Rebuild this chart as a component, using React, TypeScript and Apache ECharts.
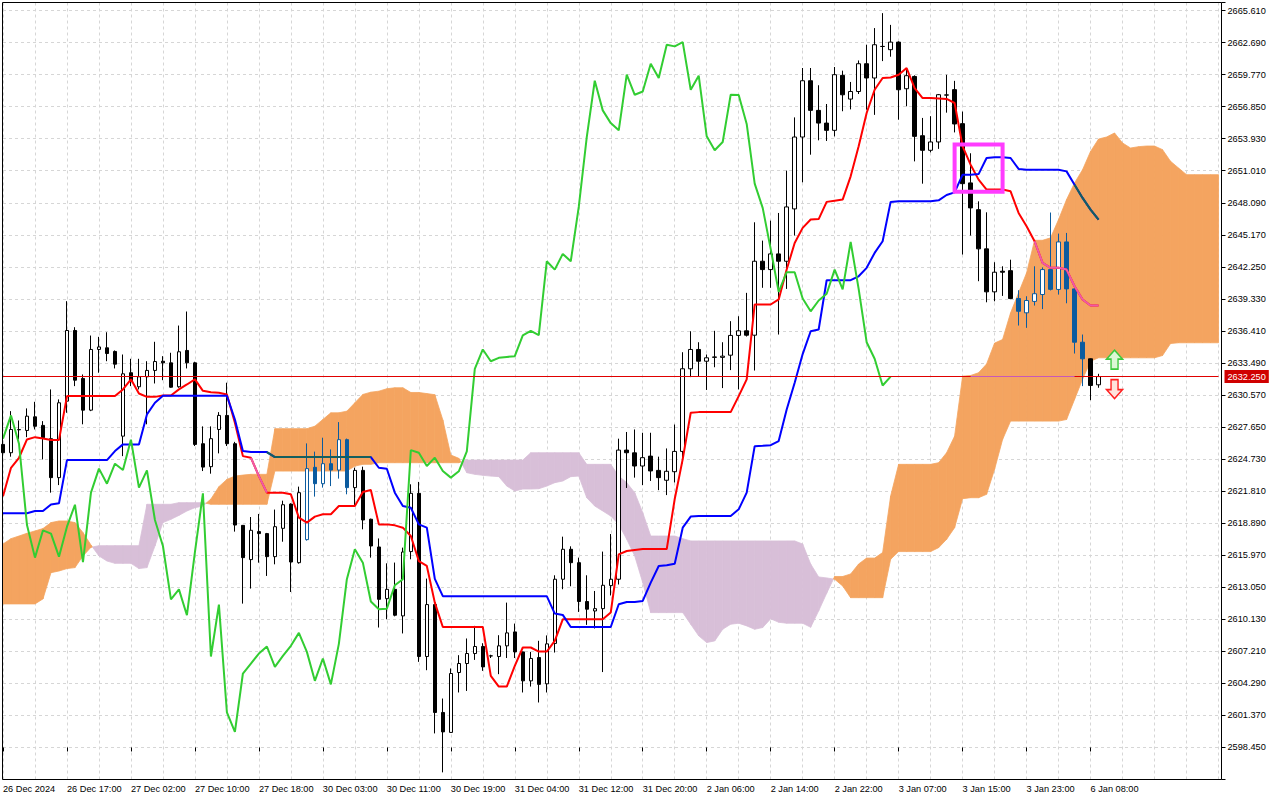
import React, { useEffect, useRef } from "react";
import * as echarts from "echarts";

// ---------- axis constants ----------
const BASE_PRICE = 2598.45; // lowest labelled price
const LAST_LABEL_PRICE = 2665.61; // highest labelled price
const PRICE_STEP = 2.92;
const TOP_PRICE = 2666.34;
const SLOT_COUNT = 153;
const LABEL_EVERY = 8;
const GRID_EVERY = 4;
const CHIKOU_SHIFT = 26;

const timeLabels = [
  "26 Dec 2024", "26 Dec 17:00", "27 Dec 02:00", "27 Dec 10:00", "27 Dec 18:00", "30 Dec 03:00",
  "30 Dec 11:00", "30 Dec 19:00", "31 Dec 04:00", "31 Dec 12:00", "31 Dec 20:00", "2 Jan 06:00",
  "2 Jan 14:00", "2 Jan 22:00", "3 Jan 07:00", "3 Jan 15:00", "3 Jan 23:00", "6 Jan 08:00",
];

// ---------- candles (H1) ----------
const opens = [
  2626.07, 2625.31, 2627.40, 2627.34, 2628.58, 2627.80, 2626.59, 2623.04, 2630.01, 2636.45,
  2632.08, 2629.19, 2634.72, 2634.87, 2634.54, 2626.82, 2632.60, 2631.32, 2632.23, 2632.81,
  2633.65, 2633.50, 2631.32, 2634.63, 2633.50, 2626.13, 2624.04, 2627.43, 2628.71, 2626.13,
  2618.69, 2615.57, 2618.12, 2617.94, 2615.84, 2618.42, 2620.63, 2615.29, 2617.39, 2623.98,
  2622.49, 2624.31, 2623.73, 2626.50, 2622.13, 2623.70, 2619.25, 2616.72, 2612.01, 2612.86,
  2610.44, 2616.30, 2621.61, 2606.74, 2611.47, 2601.64, 2599.82, 2605.28, 2606.10, 2607.01,
  2607.65, 2606.79, 2606.74, 2607.71, 2608.98, 2607.16, 2604.52, 2606.65, 2604.25, 2607.93,
  2613.78, 2616.51, 2615.29, 2611.75, 2610.89, 2611.10, 2613.20, 2613.78, 2625.55, 2625.30,
  2624.10, 2625.00, 2623.70, 2622.80, 2623.58, 2625.43, 2632.96, 2634.72, 2633.65, 2634.00,
  2634.00, 2634.20, 2636.00, 2636.42, 2636.02, 2642.76, 2642.00, 2643.43, 2642.76, 2647.53,
  2654.08, 2659.21, 2656.51, 2655.35, 2654.69, 2659.70, 2657.54, 2658.23, 2660.76, 2659.46,
  2662.33, 2662.04, 2662.73, 2658.48, 2659.60, 2654.20, 2652.87, 2653.63, 2657.90, 2658.40,
  2655.30, 2649.90, 2647.46, 2643.89, 2639.97, 2641.85, 2641.90, 2639.36, 2638.06, 2639.10,
  2639.73, 2642.00, 2640.19, 2644.52, 2640.24, 2635.38, 2633.87, 2631.50,
];
const closes = [
  2625.31, 2627.43, 2627.42, 2628.64, 2627.72, 2626.68, 2623.04, 2629.86, 2636.45, 2631.92,
  2629.19, 2634.72, 2634.95, 2634.35, 2633.38, 2632.50, 2631.83, 2632.23, 2632.81, 2633.62,
  2633.50, 2631.28, 2634.51, 2633.50, 2626.07, 2624.00, 2626.59, 2628.71, 2626.13, 2618.72,
  2615.75, 2618.24, 2617.94, 2615.84, 2618.57, 2620.57, 2615.35, 2621.67, 2623.86, 2622.49,
  2624.31, 2623.73, 2626.50, 2622.13, 2623.70, 2619.18, 2616.81, 2611.95, 2612.86, 2610.50,
  2616.26, 2621.61, 2606.74, 2611.47, 2601.64, 2599.87, 2605.19, 2606.10, 2607.01, 2607.65,
  2605.79, 2606.80, 2607.71, 2608.89, 2607.16, 2604.52, 2606.56, 2604.20, 2607.89, 2613.78,
  2616.51, 2615.29, 2611.75, 2611.05, 2611.10, 2613.23, 2613.78, 2625.55, 2625.31, 2624.10,
  2624.86, 2623.65, 2623.04, 2623.62, 2625.43, 2632.96, 2634.72, 2633.65, 2633.96, 2634.04,
  2634.11, 2636.00, 2636.42, 2636.02, 2642.76, 2642.00, 2643.43, 2642.76, 2647.71, 2654.08,
  2659.21, 2656.51, 2655.35, 2654.69, 2659.76, 2657.93, 2658.23, 2660.76, 2659.46, 2662.49,
  2662.34, 2662.73, 2658.39, 2659.67, 2654.14, 2652.87, 2653.63, 2657.94, 2657.92, 2655.27,
  2649.83, 2647.62, 2643.89, 2639.97, 2641.76, 2641.76, 2639.36, 2638.20, 2639.18, 2639.80,
  2642.00, 2640.20, 2644.52, 2640.24, 2635.38, 2633.87, 2631.44, 2632.25,
];
const lows = [
  2625.00, 2624.95, 2626.52, 2626.73, 2627.43, 2624.70, 2621.67, 2622.36, 2628.95, 2631.38,
  2627.90, 2629.10, 2632.60, 2633.65, 2632.99, 2625.00, 2631.38, 2631.08, 2627.90, 2631.62,
  2631.92, 2631.23, 2631.23, 2632.99, 2625.92, 2623.64, 2623.40, 2625.25, 2625.92, 2618.12,
  2611.56, 2612.93, 2615.29, 2614.08, 2615.14, 2617.20, 2612.62, 2615.20, 2617.30, 2621.31,
  2622.13, 2622.27, 2622.95, 2621.52, 2620.46, 2618.33, 2615.75, 2609.38, 2610.13, 2610.40,
  2608.84, 2615.60, 2606.25, 2605.49, 2599.73, 2596.18, 2599.80, 2603.46, 2603.60, 2606.43,
  2605.43, 2606.60, 2605.13, 2606.60, 2606.60, 2603.46, 2604.00, 2602.55, 2603.46, 2607.10,
  2612.87, 2613.14, 2610.80, 2609.62, 2609.29, 2605.32, 2612.30, 2613.30, 2622.10, 2623.04,
  2622.36, 2622.74, 2621.90, 2621.45, 2622.60, 2624.34, 2632.20, 2632.29, 2631.03, 2633.10,
  2631.20, 2632.84, 2631.08, 2635.90, 2632.80, 2640.34, 2640.34, 2636.08, 2640.24, 2645.10,
  2649.95, 2652.47, 2653.78, 2653.72, 2654.14, 2656.43, 2656.60, 2658.00, 2656.57, 2656.10,
  2661.00, 2661.40, 2655.66, 2656.88, 2651.86, 2649.83, 2652.68, 2653.00, 2656.30, 2654.50,
  2643.37, 2645.10, 2640.94, 2639.02, 2639.11, 2639.60, 2639.30, 2636.90, 2636.69, 2638.72,
  2638.40, 2640.10, 2639.72, 2638.93, 2634.35, 2631.38, 2630.10, 2631.23,
];
const highs = [
  2626.50, 2629.10, 2628.25, 2629.35, 2629.95, 2628.19, 2631.08, 2630.17, 2639.12, 2636.75,
  2632.44, 2635.99, 2635.87, 2636.29, 2634.63, 2634.26, 2633.87, 2633.87, 2633.65, 2635.42,
  2634.11, 2634.42, 2636.90, 2638.18, 2633.60, 2627.71, 2627.71, 2629.01, 2631.69, 2626.30,
  2618.70, 2619.45, 2619.73, 2618.00, 2620.13, 2620.94, 2620.70, 2622.22, 2626.16, 2625.41,
  2626.68, 2625.61, 2628.10, 2626.60, 2623.95, 2624.04, 2619.30, 2617.50, 2615.23, 2615.30,
  2616.66, 2622.43, 2622.65, 2613.84, 2611.50, 2602.91, 2605.65, 2606.86, 2608.38, 2609.53,
  2607.95, 2606.90, 2608.68, 2611.65, 2609.74, 2607.20, 2607.16, 2608.17, 2608.66, 2614.14,
  2617.66, 2616.78, 2615.75, 2614.14, 2612.71, 2616.30, 2617.90, 2626.59, 2627.20, 2627.43,
  2627.13, 2627.13, 2624.95, 2625.70, 2627.88, 2634.47, 2636.38, 2635.38, 2634.26, 2636.42,
  2635.38, 2637.30, 2637.75, 2639.88, 2646.31, 2644.64, 2646.46, 2647.16, 2651.02, 2655.87,
  2660.37, 2660.37, 2658.80, 2657.09, 2660.46, 2660.13, 2659.10, 2661.06, 2662.49, 2664.01,
  2665.37, 2664.30, 2662.80, 2660.37, 2659.70, 2655.82, 2655.98, 2658.00, 2659.75, 2659.20,
  2656.40, 2652.60, 2648.22, 2647.22, 2642.67, 2642.30, 2642.90, 2640.12, 2639.57, 2642.30,
  2642.20, 2647.20, 2645.28, 2645.34, 2640.30, 2636.08, 2633.90, 2632.50,
];

// ---------- Ichimoku lines ----------
const tenkan = [
  2621.35, 2623.94, 2624.85, 2626.52, 2626.73, 2626.60, 2626.46, 2626.46, 2630.47, 2630.47,
  2630.47, 2630.47, 2630.47, 2630.47, 2630.47, 2631.08, 2632.00, 2630.71, 2630.40, 2630.40,
  2630.53, 2630.53, 2631.08, 2631.53, 2632.00, 2630.95, 2630.83, 2630.77, 2630.62, 2628.04,
  2625.00, 2624.86, 2623.18, 2621.67, 2621.67, 2621.67, 2621.52, 2619.40, 2618.94, 2619.49,
  2619.70, 2619.70, 2620.45, 2620.45, 2620.45, 2621.73, 2621.91, 2618.78, 2618.78, 2618.69,
  2618.48, 2617.72, 2615.44, 2614.99, 2611.65, 2609.43, 2609.43, 2609.43, 2609.43, 2609.43,
  2609.43, 2604.98, 2604.00, 2604.00, 2605.88, 2607.56, 2607.56, 2607.19, 2607.19, 2608.16,
  2610.13, 2610.13, 2610.13, 2610.13, 2610.13, 2610.13, 2610.74, 2616.05, 2616.35, 2616.44,
  2616.53, 2616.53, 2616.53, 2616.53, 2621.09, 2624.73, 2628.95, 2629.01, 2629.01, 2629.01,
  2629.01, 2629.01, 2630.47, 2632.00, 2638.82, 2638.82, 2638.82, 2639.28, 2642.00, 2644.43,
  2645.80, 2646.56, 2646.60, 2648.17, 2648.28, 2648.38, 2650.50, 2653.23, 2656.27, 2658.39,
  2659.46, 2659.50, 2659.76, 2660.37, 2658.54, 2657.63, 2657.63, 2657.60, 2657.55, 2657.18,
  2653.23, 2651.56, 2650.20, 2649.29, 2649.29, 2649.29, 2649.13, 2647.16, 2645.95, 2644.58,
  2642.61, 2642.16, 2642.16, 2642.00, 2640.48, 2639.28, 2638.72, 2638.72,
];
const kijun = [
  2619.79, 2619.79, 2619.79, 2619.80, 2620.00, 2620.00, 2620.60, 2620.70, 2624.64, 2624.64,
  2624.64, 2624.64, 2624.64, 2624.64, 2625.46, 2626.07, 2626.07, 2626.07, 2628.80, 2629.86,
  2630.50, 2630.50, 2630.50, 2630.50, 2630.50, 2630.50, 2630.50, 2630.50, 2630.50, 2628.34,
  2625.46, 2625.37, 2625.37, 2625.37, 2624.91, 2624.91, 2624.91, 2624.91, 2624.91, 2624.91,
  2624.91, 2624.91, 2624.91, 2624.91, 2624.91, 2624.91, 2624.91, 2623.94, 2623.85, 2621.67,
  2620.45, 2620.30, 2618.78, 2618.48, 2613.81, 2612.24, 2612.24, 2612.24, 2612.24, 2612.24,
  2612.24, 2612.24, 2612.24, 2612.24, 2612.24, 2612.24, 2612.24, 2612.24, 2612.24, 2610.65,
  2610.53, 2609.43, 2609.43, 2609.43, 2609.43, 2609.43, 2609.43, 2611.50, 2611.71, 2611.71,
  2611.80, 2613.47, 2614.99, 2615.05, 2615.20, 2618.48, 2619.49, 2619.54, 2619.54, 2619.54,
  2619.54, 2619.54, 2620.15, 2621.67, 2625.91, 2625.95, 2626.00, 2626.37, 2629.25, 2631.69,
  2634.30, 2636.38, 2636.54, 2641.03, 2641.03, 2641.03, 2641.03, 2641.39, 2642.16, 2643.52,
  2644.58, 2648.17, 2648.22, 2648.22, 2648.22, 2648.22, 2648.22, 2648.31, 2648.80, 2649.04,
  2650.65, 2650.65, 2650.70, 2652.17, 2652.23, 2652.23, 2652.17, 2651.17, 2651.10, 2651.10,
  2651.10, 2651.10, 2651.10, 2650.95, 2649.74, 2648.53, 2647.47, 2646.56,
];
const spanA = [
  2616.99, 2617.48, 2617.72, 2617.97, 2618.18, 2618.40, 2618.94, 2619.09, 2619.09, 2618.94,
  2618.03, 2616.90, 2615.90, 2615.44, 2615.23, 2615.23, 2615.23, 2614.75, 2614.84, 2616.81,
  2618.94, 2619.24, 2619.60, 2620.00, 2620.30, 2620.45, 2621.09, 2622.22, 2622.88, 2623.18,
  2623.27, 2623.34, 2623.34, 2623.34, 2627.50, 2627.50, 2627.50, 2627.50, 2627.50, 2627.73,
  2628.34, 2628.95, 2628.95, 2629.10, 2629.86, 2630.62, 2630.83, 2630.92, 2631.14, 2631.23,
  2631.23, 2630.80, 2630.80, 2630.70, 2630.60, 2628.30, 2625.10, 2624.80, 2623.49, 2623.34,
  2623.25, 2623.18, 2623.13, 2622.27, 2621.82, 2622.00, 2622.00, 2622.03, 2622.27, 2622.58,
  2622.73, 2623.13, 2623.18, 2621.21, 2620.45, 2620.00, 2619.54, 2618.78, 2617.42, 2615.90,
  2613.47, 2610.74, 2610.74, 2610.74, 2610.74, 2610.74, 2609.68, 2608.62, 2608.01, 2608.16,
  2609.22, 2609.68, 2609.77, 2609.53, 2609.22, 2609.38, 2610.17, 2609.86, 2609.77, 2609.77,
  2609.77, 2609.40, 2610.90, 2612.50, 2614.03, 2614.03, 2614.26, 2615.17, 2615.71, 2615.71,
  2616.21, 2621.36, 2624.25, 2624.25, 2624.25, 2624.25, 2624.25, 2624.40, 2625.31, 2626.82,
  2632.29, 2632.35, 2632.60, 2633.40, 2635.30, 2635.63, 2638.06, 2639.88, 2641.70, 2644.67,
  2644.67, 2644.89, 2646.56, 2648.38, 2649.90, 2651.10, 2652.77, 2653.90, 2654.08, 2654.45,
  2653.54, 2653.08, 2653.20, 2653.26, 2653.26, 2652.93, 2651.87, 2651.26, 2650.65, 2650.65,
  2650.65, 2650.65, 2650.65,
];
const spanB = [
  2611.53, 2611.53, 2611.53, 2611.53, 2611.53, 2611.99, 2614.38, 2614.53, 2614.75, 2614.84,
  2615.90, 2616.69, 2616.84, 2616.84, 2616.84, 2616.84, 2616.84, 2616.84, 2620.61, 2620.61,
  2620.61, 2620.61, 2620.76, 2620.76, 2620.76, 2620.76, 2620.61, 2620.61, 2620.61, 2620.61,
  2620.61, 2620.61, 2620.61, 2620.61, 2623.64, 2623.64, 2623.64, 2623.64, 2623.64, 2623.64,
  2623.64, 2623.64, 2623.64, 2623.64, 2624.09, 2624.25, 2624.25, 2624.40, 2624.40, 2624.40,
  2624.40, 2624.40, 2624.40, 2624.40, 2624.40, 2624.40, 2624.40, 2624.40, 2624.64, 2624.64,
  2624.64, 2624.64, 2624.64, 2624.64, 2624.64, 2624.64, 2625.31, 2625.31, 2625.31, 2625.31,
  2625.31, 2625.31, 2625.31, 2624.25, 2624.25, 2624.25, 2624.25, 2623.18, 2622.58, 2621.67,
  2619.85, 2617.72, 2617.72, 2617.72, 2617.72, 2617.48, 2617.27, 2617.27, 2617.27, 2617.27,
  2617.27, 2617.27, 2617.27, 2617.27, 2617.27, 2617.27, 2617.27, 2617.27, 2617.27, 2617.27,
  2616.99, 2615.17, 2613.99, 2613.90, 2613.78, 2613.17, 2612.10, 2612.10, 2612.10, 2612.10,
  2612.10, 2615.60, 2616.30, 2616.30, 2616.30, 2616.30, 2616.30, 2616.66, 2617.42, 2618.48,
  2621.12, 2621.21, 2621.21, 2621.52, 2623.80, 2626.52, 2628.19, 2628.19, 2628.19, 2628.19,
  2628.19, 2628.19, 2628.19, 2628.34, 2630.17, 2632.00, 2633.65, 2633.96, 2633.96, 2633.96,
  2633.96, 2633.96, 2633.96, 2633.96, 2633.96, 2634.17, 2635.26, 2635.33, 2635.33, 2635.33,
  2635.33, 2635.33, 2635.33,
];

// ---------- annotations ----------
const currentPrice = 2632.25;
const boxBars = [119, 125];
const boxPrices = [2649.1, 2653.4];
const arrowBar = 139;
const upArrowPrice = 2633.8;
const downArrowPrice = 2631.1;
// parts that look recoloured where they cross the cloud
const candlesInCloud = [38, 39, 40, 41, 42, 43, 127, 128, 129, 130, 131, 132, 133, 134, 135];
const tenkanInCloud = [[31, 33], [129, 137]];
const kijunInCloud = [[33, 46], [134, 137]];
const priceInCloud = [121, 134];

const C = {
  orange: "#F4A460",
  thistle: "#D8BFD8",
  red: "#FF0000",
  blue: "#0000FF",
  green: "#32CD32",
  pink: "#EE5AA8",
  teal: "#145F5F",
  cloudCandle: "#0B5B9F",
  grid: "#D6D6D6",
  box: "#FF3CFF",
  priceLine: "#E00000",
  priceBox: "#D00000",
};
const FONT = "'Liberation Sans', Arial, sans-serif";

const toY = (v: number | null | undefined) =>
  v == null ? null : Math.round((v - BASE_PRICE) * 10000) / 10000;

const inRanges = (i: number, ranges: number[][]) => ranges.some(([a, b]) => i >= a && i <= b);

export default function App() {
  const ref = useRef<HTMLDivElement>(null);

  useEffect(() => {
    document.body.style.margin = "0";
    const chart = echarts.init(ref.current as HTMLDivElement, null, { renderer: "svg" });

    const categories = Array.from({ length: SLOT_COUNT }, (_, i) => String(i));
    const isLabelSlot = (i: number) => i % LABEL_EVERY === 0 && i / LABEL_EVERY < timeLabels.length;

    const candleData = opens.map((o, i) => {
      const value = [toY(o), toY(closes[i]), toY(lows[i]), toY(highs[i])];
      if (candlesInCloud.includes(i)) {
        const fill = closes[i] < o ? C.cloudCandle : "#FFFFFF";
        return {
          value,
          itemStyle: {
            color: fill,
            color0: fill,
            borderColor: C.cloudCandle,
            borderColor0: C.cloudCandle,
            borderColorDoji: C.cloudCandle,
          },
        };
      }
      return value;
    });

    const cloudData: number[][] = [];
    for (let i = 0; i < spanA.length - 1; i++) {
      cloudData.push([
        i,
        toY(spanA[i]) as number,
        toY(spanB[i]) as number,
        toY(spanA[i + 1]) as number,
        toY(spanB[i + 1]) as number,
      ]);
    }

    const lineSeries = (name: string, data: (number | null)[], color: string, z: number) => ({
      name,
      type: "line",
      data,
      showSymbol: false,
      symbol: "none",
      silent: true,
      connectNulls: false,
      lineStyle: { color, width: 2 },
      z,
    });

    const option: any = {
      animation: false,
      tooltip: { show: false },
      textStyle: { fontFamily: FONT },
      grid: { left: 2.5, right: 61.5, top: 2.5, bottom: 20.5, containLabel: false },
      xAxis: {
        type: "category",
        data: categories,
        boundaryGap: false,
        axisLine: { show: false },
        axisTick: {
          show: true,
          interval: (i: number) => isLabelSlot(i),
          length: 4,
          lineStyle: { color: "#000" },
        },
        axisLabel: {
          interval: (i: number) => isLabelSlot(i),
          formatter: (_v: string, i: number) => (isLabelSlot(i) ? timeLabels[i / LABEL_EVERY] : ""),
          align: "left",
          margin: 5,
          fontSize: 9.2,
          color: "#000",
          fontFamily: FONT,
        },
        splitLine: {
          show: true,
          interval: (i: number) => i % GRID_EVERY === 0,
          lineStyle: { color: C.grid, type: [3, 3], width: 1 },
        },
      },
      yAxis: {
        type: "value",
        position: "right",
        offset: 3,
        min: -PRICE_STEP,
        max: toY(TOP_PRICE),
        interval: PRICE_STEP,
        axisLine: { show: false },
        axisTick: { show: true, length: 4, lineStyle: { color: "#000" } },
        axisLabel: {
          showMinLabel: true,
          showMaxLabel: true,
          margin: 6,
          fontSize: 9.2,
          color: "#000",
          fontFamily: FONT,
          formatter: (v: number) =>
            v < -0.01 || v > LAST_LABEL_PRICE - BASE_PRICE + 0.01 ? "" : (v + BASE_PRICE).toFixed(3),
        },
        splitLine: { show: true, lineStyle: { color: C.grid, type: [3, 3], width: 1 } },
      },
      graphic: [
        {
          type: "rect",
          silent: true,
          z: 100,
          shape: { x: 2.5, y: 2.5, width: 1219, height: 777 },
          style: { fill: "none", stroke: "#000", lineWidth: 1 },
        },
      ],
      series: [
        {
          name: "Cloud",
          type: "custom",
          silent: true,
          clip: true,
          z: 1,
          data: cloudData,
          encode: { x: 0, y: [1, 2, 3, 4] },
          renderItem: (_params: any, api: any) => {
            const i = api.value(0) as number;
            const a0 = api.value(1) as number;
            const b0 = api.value(2) as number;
            const a1 = api.value(3) as number;
            const b1 = api.value(4) as number;
            const pa0 = api.coord([i, a0]);
            const pb0 = api.coord([i, b0]);
            const pa1 = api.coord([i + 1, a1]);
            const pb1 = api.coord([i + 1, b1]);
            const d0 = a0 - b0;
            const d1 = a1 - b1;
            const col = (d: number) => (d >= 0 ? C.orange : C.thistle);
            const poly = (pts: number[][], c: string) => ({
              type: "polygon",
              shape: { points: pts },
              style: { fill: c, stroke: c, lineWidth: 0.8 },
            });
            let children: any[];
            if ((d0 >= 0 && d1 >= 0) || (d0 <= 0 && d1 <= 0)) {
              children = [poly([pa0, pa1, pb1, pb0], col(d0 + d1))];
            } else {
              const t = d0 / (d0 - d1);
              const px = [pa0[0] + t * (pa1[0] - pa0[0]), pa0[1] + t * (pa1[1] - pa0[1])];
              children = [poly([pa0, px, pb0], col(d0)), poly([px, pa1, pb1], col(d1))];
            }
            return { type: "group", children };
          },
        },
        {
          name: "Price",
          type: "candlestick",
          data: candleData,
          barWidth: 4,
          silent: true,
          clip: true,
          z: 3,
          itemStyle: {
            color: "#FFFFFF",
            color0: "#000000",
            borderColor: "#000000",
            borderColor0: "#000000",
            borderColorDoji: "#000000",
            borderWidth: 1,
          },
        },
        lineSeries("Tenkan-sen", tenkan.map(toY), C.red, 4),
        lineSeries("Kijun-sen", kijun.map(toY), C.blue, 4),
        lineSeries("Chikou Span", closes.slice(CHIKOU_SHIFT).map(toY), C.green, 4),
        lineSeries(
          "Tenkan in cloud",
          tenkan.map((v, i) => (inRanges(i, tenkanInCloud) ? toY(v) : null)),
          C.pink,
          5
        ),
        lineSeries(
          "Kijun in cloud",
          kijun.map((v, i) => (inRanges(i, kijunInCloud) ? toY(v) : null)),
          C.teal,
          5
        ),
        {
          name: "Annotations",
          type: "line",
          data: [],
          silent: true,
          clip: false,
          z: 6,
          markLine: {
            silent: true,
            symbol: ["none", "none"],
            animation: false,
            data: [
              {
                yAxis: toY(currentPrice),
                lineStyle: { color: C.priceLine, width: 1, type: "solid" },
                label: {
                  show: true,
                  position: "end",
                  distance: 6,
                  formatter: currentPrice.toFixed(3),
                  color: "#FFFFFF",
                  backgroundColor: C.priceBox,
                  padding: [2, 3, 1, 3],
                  fontSize: 9.2,
                  lineHeight: 10,
                  fontFamily: FONT,
                },
              },
              [
                {
                  coord: [String(priceInCloud[0]), toY(currentPrice)],
                  lineStyle: { color: "#C858B8", width: 1, type: "solid" },
                  label: { show: false },
                },
                {
                  coord: [String(priceInCloud[1]), toY(currentPrice)],
                  lineStyle: { color: "#C858B8", width: 1, type: "solid" },
                  label: { show: false },
                },
              ],
            ],
          },
          markArea: {
            silent: true,
            z: 7,
            itemStyle: { color: "rgba(0,0,0,0)", borderColor: C.box, borderWidth: 4 },
            data: [
              [
                { xAxis: String(boxBars[0]), yAxis: toY(boxPrices[0]) },
                { xAxis: String(boxBars[1]), yAxis: toY(boxPrices[1]) },
              ],
            ],
          },
          markPoint: {
            silent: true,
            label: { show: false },
            data: [
              {
                coord: [String(arrowBar), toY(upArrowPrice)],
                symbol: "path://M8 0 L16 9 L11.5 9 L11.5 19 L4.5 19 L4.5 9 L0 9 Z",
                symbolSize: [16, 19],
                itemStyle: { color: "#DDF7D6", borderColor: "#3CC83C", borderWidth: 1.5 },
              },
              {
                coord: [String(arrowBar), toY(downArrowPrice)],
                symbol: "path://M4.5 0 L11.5 0 L11.5 10 L16 10 L8 19 L0 10 L4.5 10 Z",
                symbolSize: [16, 19],
                itemStyle: { color: "#FFE3DC", borderColor: "#FF2020", borderWidth: 1.5 },
              },
            ],
          },
        },
      ],
    };

    chart.setOption(option);
    return () => chart.dispose();
  }, []);

  return <div ref={ref} style={{ width: 1280, height: 800 }} />;
}
